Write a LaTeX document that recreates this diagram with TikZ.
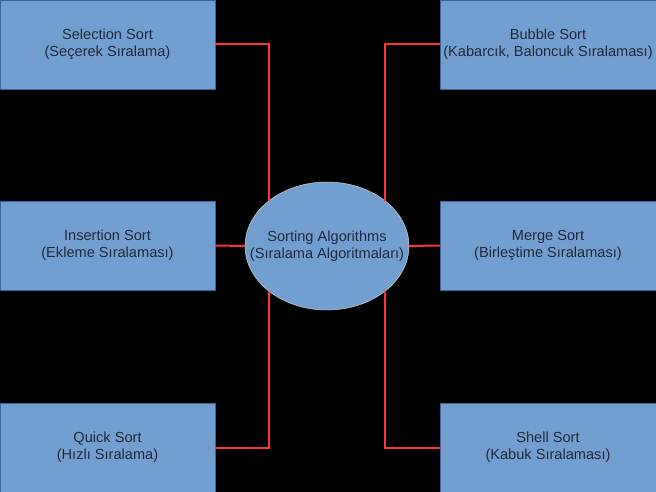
\documentclass[tikz,border=0pt]{standalone}
\usepackage{fontspec}
\setmainfont{Liberation Sans}
\usetikzlibrary{shapes}

\definecolor{boxfill}{HTML}{729FCF}
\definecolor{boxline}{HTML}{3465A4}
\definecolor{textcol}{HTML}{1F2A36}
\definecolor{linkred}{HTML}{FF3333}

\begin{document}
\begin{tikzpicture}[x=1pt, y=-1pt,
        algbox/.style={draw=boxline, fill=boxfill, text=textcol, minimum width=215pt,
            minimum height=89pt, inner sep=0pt, align=center, font=\fontsize{14.6}{17}\selectfont},
        hub/.style={draw=white!75!gray, fill=boxfill, ellipse, minimum width=164pt,
            minimum height=128pt, inner sep=0pt},
        hubtext/.style={text=textcol, inner sep=0pt, align=center, font=\fontsize{14.6}{17}\selectfont},
        link/.style={draw=linkred, line width=2pt}]
        \fill[black] (0, 0) rectangle (656, 492);
        \useasboundingbox (0, 0) rectangle (656, 492);

        \draw (107.5, 44.5) node[algbox] (sel) {Selection Sort\\(Seçerek Sıralama)};
        \draw (107.5, 245.5) node[algbox] (ins) {Insertion Sort\\(Ekleme Sıralaması)};
        \draw (107.5, 447.5) node[algbox] (quick) {Quick Sort\\(Hızlı Sıralama)};
        \draw (548, 44.5) node[algbox, minimum width=216pt] (bubble) {Bubble Sort\\(Kabarcık, Baloncuk Sıralaması)};
        \draw (548, 245.5) node[algbox, minimum width=216pt] (merge) {Merge Sort\\(Birleştime Sıralaması)};
        \draw (548, 447.5) node[algbox, minimum width=216pt] (shell) {Shell Sort\\(Kabuk Sıralaması)};

        \draw (327, 246) node[hub] (algo) {};
        \draw (algo.center) node[hubtext] (algolabel) {Sorting Algorithms\\(Sıralama Algoritmaları)};

        \draw[link] (sel.east) -| (algo.north west);
        \draw[link] (ins.east) -- (algo.west);
        \draw[link] (quick.east) -| (algo.south west);
        \draw[link] (bubble.west) -| (algo.north east);
        \draw[link] (merge.west) -- (algo.east);
        \draw[link] (shell.west) -| (algo.south east);
    \end{tikzpicture}
\end{document}
